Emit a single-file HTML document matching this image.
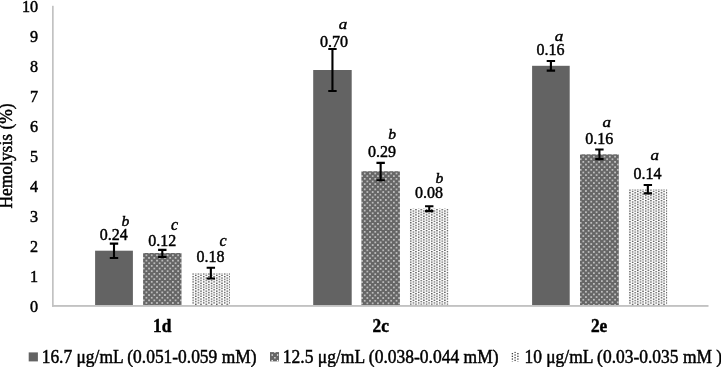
<!DOCTYPE html>
<html><head><meta charset="utf-8"><title>Hemolysis chart</title>
<style>
html,body{margin:0;padding:0;background:#fff;}
body{width:721px;height:367px;overflow:hidden;font-family:"Liberation Serif",serif;}
svg{display:block;will-change:transform;}
text{font-family:"Liberation Serif",serif;fill:#000;stroke:#000;stroke-width:0.45px;}
.ax{font-size:17.33px;}
.tk{font-size:16.3px;}
.dl{font-size:16.0px;}
.it{font-size:16.0px;font-style:italic;}
.itb{font-size:15.6px;font-style:italic;}
.cat{font-size:17.33px;font-weight:bold;}
</style></head><body>
<svg width="721" height="367" viewBox="0 0 721 367">
<defs>
<pattern id="pd" patternUnits="userSpaceOnUse" x="2.438" y="1.437" width="5.300" height="5.300">
<rect x="0" y="0" width="5.300" height="5.300" fill="#666"/>
<rect x="0.2" y="0.2" width="1.325" height="1.325" fill="#fff"/>
<rect x="2.850" y="2.850" width="1.325" height="1.325" fill="#fff"/>
</pattern>
<pattern id="pl" patternUnits="userSpaceOnUse" x="0.3" y="0.3" width="5.252" height="2.626">
<rect x="0" y="0" width="5.252" height="2.626" fill="#fff"/>
<rect x="0.1" y="0" width="1.313" height="1.313" fill="#404040"/>
<rect x="2.726" y="1.313" width="1.313" height="1.313" fill="#404040"/>
</pattern>
</defs>
<rect x="0" y="0" width="721" height="367" fill="#fff"/>

<rect x="95.10" y="250.70" width="37.80" height="54.80" fill="#636363"/>
<g transform="translate(143.10 253.00)"><rect x="0" y="0" width="38.40" height="52.50" fill="url(#pd)"/></g>
<g transform="translate(192.10 273.10)"><rect x="0" y="0" width="37.90" height="32.40" fill="url(#pl)"/></g>
<rect x="313.20" y="70.00" width="38.50" height="235.50" fill="#636363"/>
<g transform="translate(361.40 171.20)"><rect x="0" y="0" width="38.50" height="134.30" fill="url(#pd)"/></g>
<g transform="translate(409.70 208.70)"><rect x="0" y="0" width="38.70" height="96.80" fill="url(#pl)"/></g>
<rect x="532.10" y="65.80" width="37.60" height="239.70" fill="#636363"/>
<g transform="translate(580.00 154.30)"><rect x="0" y="0" width="38.80" height="151.20" fill="url(#pd)"/></g>
<g transform="translate(628.90 189.20)"><rect x="0" y="0" width="38.30" height="116.30" fill="url(#pl)"/></g>
<rect x="52" y="5.8" width="1" height="300.9" fill="#c2c2c2"/><rect x="53" y="5.8" width="1" height="300.9" fill="#d4d4d4"/>
<rect x="52" y="305" width="656.5" height="1.85" fill="#c2c2c2"/>
<path d="M114.00 243.66 V258.04 M109.80 243.66 H118.20 M109.80 258.04 H118.20" fill="none" stroke="#000" stroke-width="2.1"/>
<path d="M162.30 249.86 V257.04 M158.10 249.86 H166.50 M158.10 257.04 H166.50" fill="none" stroke="#000" stroke-width="2.1"/>
<path d="M210.85 267.71 V278.49 M206.65 267.71 H215.05 M206.65 278.49 H215.05" fill="none" stroke="#000" stroke-width="2.1"/>
<path d="M332.45 49.03 V90.97 M328.25 49.03 H336.65 M328.25 90.97 H336.65" fill="none" stroke="#000" stroke-width="2.1"/>
<path d="M380.65 162.91 V180.29 M376.45 162.91 H384.85 M376.45 180.29 H384.85" fill="none" stroke="#000" stroke-width="2.1"/>
<path d="M429.25 206.30 V211.10 M425.05 206.30 H433.45 M425.05 211.10 H433.45" fill="none" stroke="#000" stroke-width="2.1"/>
<path d="M550.90 61.01 V70.59 M546.70 61.01 H555.10 M546.70 70.59 H555.10" fill="none" stroke="#000" stroke-width="2.1"/>
<path d="M599.40 149.51 V159.09 M595.20 149.51 H603.60 M595.20 159.09 H603.60" fill="none" stroke="#000" stroke-width="2.1"/>
<path d="M647.85 185.01 V193.39 M643.65 185.01 H652.05 M643.65 193.39 H652.05" fill="none" stroke="#000" stroke-width="2.1"/>
<text class="tk" transform="translate(38.15 311.50) scale(0.990 1.090)" text-anchor="end">0</text>
<text class="tk" transform="translate(38.15 281.55) scale(0.990 1.090)" text-anchor="end">1</text>
<text class="tk" transform="translate(38.15 251.60) scale(0.990 1.090)" text-anchor="end">2</text>
<text class="tk" transform="translate(38.15 221.65) scale(0.990 1.090)" text-anchor="end">3</text>
<text class="tk" transform="translate(38.15 191.70) scale(0.990 1.090)" text-anchor="end">4</text>
<text class="tk" transform="translate(38.15 161.75) scale(0.990 1.090)" text-anchor="end">5</text>
<text class="tk" transform="translate(38.15 131.80) scale(0.990 1.090)" text-anchor="end">6</text>
<text class="tk" transform="translate(38.15 101.85) scale(0.990 1.090)" text-anchor="end">7</text>
<text class="tk" transform="translate(38.15 71.90) scale(0.990 1.090)" text-anchor="end">8</text>
<text class="tk" transform="translate(38.15 41.95) scale(0.990 1.090)" text-anchor="end">9</text>
<text class="tk" transform="translate(38.15 12.00) scale(0.990 1.090)" text-anchor="end">10</text>
<text class="ax" transform="translate(12.00 208.60) rotate(-90) scale(1.008 1.060)">Hemolysis (%)</text>
<text class="dl" transform="translate(113.75 240.20)" text-anchor="middle">0.24</text>
<text class="itb" transform="translate(125.30 225.90)" text-anchor="middle">b</text>
<text class="dl" transform="translate(162.20 246.20)" text-anchor="middle">0.12</text>
<text class="it" transform="translate(174.45 229.60)" text-anchor="middle">c</text>
<text class="dl" transform="translate(210.40 262.10)" text-anchor="middle">0.18</text>
<text class="it" transform="translate(223.00 245.90)" text-anchor="middle">c</text>
<text class="dl" transform="translate(334.10 47.30)" text-anchor="middle">0.70</text>
<text class="it" transform="translate(342.90 28.85) scale(1.060 0.860)" text-anchor="middle">a</text>
<text class="dl" transform="translate(382.00 157.20)" text-anchor="middle">0.29</text>
<text class="itb" transform="translate(392.15 138.70)" text-anchor="middle">b</text>
<text class="dl" transform="translate(428.95 197.60)" text-anchor="middle">0.08</text>
<text class="itb" transform="translate(439.50 183.30)" text-anchor="middle">b</text>
<text class="dl" transform="translate(550.50 54.90)" text-anchor="middle">0.16</text>
<text class="it" transform="translate(559.00 40.90) scale(1.060 0.860)" text-anchor="middle">a</text>
<text class="dl" transform="translate(599.15 143.70)" text-anchor="middle">0.16</text>
<text class="it" transform="translate(606.70 126.60) scale(1.060 0.860)" text-anchor="middle">a</text>
<text class="dl" transform="translate(647.40 178.50)" text-anchor="middle">0.14</text>
<text class="it" transform="translate(654.70 160.45) scale(1.060 0.860)" text-anchor="middle">a</text>
<text class="cat" transform="translate(162.20 332.00) scale(1.000 1.040)" text-anchor="middle">1d</text>
<text class="cat" transform="translate(380.65 332.00) scale(1.000 1.040)" text-anchor="middle">2c</text>
<text class="cat" transform="translate(599.10 332.00) scale(1.000 1.040)" text-anchor="middle">2e</text>
<rect x="28.7" y="352.4" width="9.2" height="9" fill="#636363"/>
<text class="ax" transform="translate(41.70 363.30) scale(1.006 1.060)">16.7 μg/mL (0.051-0.059 mM)</text>
<rect x="270.0" y="352.1" width="9.0" height="9.3" fill="#666"/>
<rect x="271.54" y="354.34" width="1.32" height="1.32" fill="#fff"/>
<rect x="276.94" y="354.34" width="1.32" height="1.32" fill="#fff"/>
<rect x="274.24" y="357.14" width="1.32" height="1.32" fill="#fff"/>
<rect x="271.54" y="359.94" width="1.32" height="1.32" fill="#fff"/>
<rect x="276.94" y="359.94" width="1.32" height="1.32" fill="#fff"/>
<rect x="274.24" y="352.10" width="1.32" height="0.86" fill="#fff"/>
<text class="ax" transform="translate(282.80 363.30) scale(1.010 1.060)">12.5 μg/mL (0.038-0.044 mM)</text>
<rect x="511.74" y="352.99" width="1.31" height="1.31" fill="#404040"/>
<rect x="511.74" y="355.69" width="1.31" height="1.31" fill="#404040"/>
<rect x="511.74" y="358.39" width="1.31" height="1.31" fill="#404040"/>
<rect x="511.74" y="361.09" width="1.31" height="0.41" fill="#404040"/>
<rect x="514.44" y="351.90" width="1.31" height="1.06" fill="#404040"/>
<rect x="514.44" y="354.34" width="1.31" height="1.31" fill="#404040"/>
<rect x="514.44" y="357.04" width="1.31" height="1.31" fill="#404040"/>
<rect x="514.44" y="359.74" width="1.31" height="1.31" fill="#404040"/>
<rect x="517.24" y="352.99" width="1.31" height="1.31" fill="#404040"/>
<rect x="517.24" y="355.69" width="1.31" height="1.31" fill="#404040"/>
<rect x="517.24" y="358.39" width="1.31" height="1.31" fill="#404040"/>
<rect x="517.24" y="361.09" width="1.31" height="0.41" fill="#404040"/>
<text class="ax" transform="translate(524.40 363.30) scale(1.008 1.060)">10 μg/mL (0.03-0.035 mM )</text>
</svg>
</body></html>
